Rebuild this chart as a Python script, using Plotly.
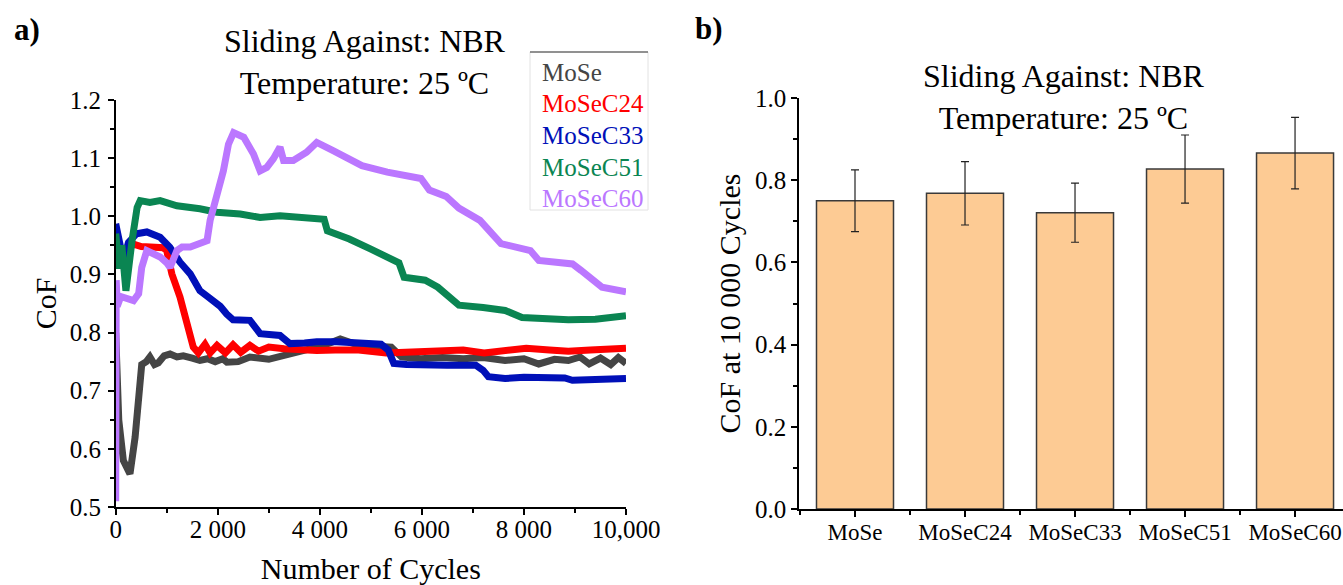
import plotly.graph_objects as go

# ---- data ----
mose_x = [0, 60, 150, 280, 380, 450, 510, 600, 670, 760, 835, 950, 1065, 1200, 1325, 1500, 1650, 1800,
          1950, 2100, 2180, 2400, 2630, 3000, 3290, 3600, 3940, 4200, 4400, 4760, 5100, 5400, 5600, 5980,
          6400, 6810, 7200, 7630, 8000, 8290, 8600, 8870, 9100, 9280, 9500, 9700, 9850, 10000]
mose_y = [0.80, 0.65, 0.58, 0.557, 0.62, 0.70, 0.745, 0.750, 0.758, 0.745, 0.748, 0.760, 0.763, 0.758,
          0.760, 0.756, 0.752, 0.755, 0.750, 0.755, 0.749, 0.750, 0.758, 0.754, 0.760, 0.765, 0.775, 0.782,
          0.789, 0.778, 0.778, 0.775, 0.758, 0.755, 0.757, 0.755, 0.757, 0.752, 0.755, 0.746, 0.754, 0.752,
          0.758, 0.746, 0.756, 0.745, 0.757, 0.747]

c24_x = [0, 80, 150, 250, 350, 500, 700, 930, 1000, 1100, 1260, 1390, 1520, 1620, 1750, 1850, 1985, 2150,
         2300, 2450, 2630, 2800, 3000, 3300, 3600, 3940, 4300, 4760, 5300, 5980, 6400, 6810, 7220, 7600,
         8045, 8500, 8870, 9300, 9700, 10000]
c24_y = [0.965, 0.93, 0.912, 0.945, 0.952, 0.948, 0.947, 0.946, 0.941, 0.901, 0.861, 0.821, 0.775, 0.765,
         0.780, 0.765, 0.778, 0.765, 0.779, 0.766, 0.778, 0.768, 0.775, 0.772, 0.770, 0.769, 0.770, 0.770,
         0.765, 0.767, 0.770, 0.770, 0.765, 0.770, 0.773, 0.770, 0.768, 0.770, 0.771, 0.773]

c33_x = [0, 70, 150, 250, 410, 610, 870, 1060, 1260, 1460, 1650, 1800, 1915, 2050, 2175, 2300, 2630, 2760,
         2830, 3220, 3340, 3415, 3700, 3940, 4330, 4760, 5200, 5340, 5450, 5700, 5980, 6500, 7055, 7200,
         7303, 7630, 8000, 8460, 8800, 8950, 9500, 10000]
c33_y = [0.987, 0.96, 0.924, 0.955, 0.970, 0.973, 0.964, 0.947, 0.921, 0.901, 0.872, 0.862, 0.855, 0.845,
         0.832, 0.822, 0.821, 0.805, 0.798, 0.795, 0.785, 0.781, 0.782, 0.784, 0.784, 0.781, 0.780, 0.770,
         0.747, 0.745, 0.744, 0.744, 0.744, 0.735, 0.724, 0.721, 0.723, 0.724, 0.722, 0.718, 0.719, 0.721]

c51_x = [0, 70, 120, 200, 320, 420, 480, 670, 870, 1200, 1650, 1980, 2440, 2830, 3220, 3610, 3940, 4084,
         4148, 4577, 4990, 5322, 5550, 5652, 6065, 6313, 6643, 6725, 7200, 7632, 7962, 8400, 8870, 9400,
         10000]
c51_y = [0.97, 0.91, 0.95, 0.872, 0.958, 1.015, 1.027, 1.024, 1.027, 1.018, 1.013, 1.007, 1.004, 0.998,
         1.001, 0.998, 0.995, 0.995, 0.975, 0.961, 0.944, 0.930, 0.920, 0.895, 0.890, 0.878, 0.855, 0.847,
         0.843, 0.838, 0.826, 0.824, 0.822, 0.823, 0.829]

c60_x = [0, 10, 30, 100, 200, 350, 450, 510, 610, 740, 870, 1000, 1065, 1200, 1300, 1460, 1650, 1790, 1850,
         1985, 2110, 2210, 2310, 2510, 2700, 2830, 2960, 3090, 3220, 3290, 3480, 3740, 3940, 4260, 4590,
         4825, 5322, 5982, 6147, 6477, 6725, 7137, 7550, 8127, 8292, 8952, 9117, 9530, 10000]
c60_y = [0.51, 0.89, 0.845, 0.862, 0.858, 0.855, 0.867, 0.912, 0.941, 0.935, 0.930, 0.920, 0.912, 0.941,
         0.947, 0.947, 0.952, 0.958, 0.993, 1.038, 1.078, 1.124, 1.144, 1.136, 1.107, 1.078, 1.084, 1.099,
         1.119, 1.096, 1.096, 1.110, 1.127, 1.113, 1.099, 1.087, 1.076, 1.065, 1.045, 1.034, 1.014, 0.993,
         0.953, 0.941, 0.924, 0.918, 0.907, 0.878, 0.870]

samples = ["MoSe", "MoSeC24", "MoSeC33", "MoSeC51", "MoSeC60"]
cof_10k = [0.750, 0.768, 0.721, 0.827, 0.866]
cof_err = [0.075, 0.077, 0.072, 0.083, 0.087]

x_tickvals = [0, 2000, 4000, 6000, 8000, 10000]
x_ticktext = ["0", "2 000", "4 000", "6 000", "8 000", "10,000"]

colors = ["#454545", "#ff0000", "#0010b8", "#0a8552", "#bb77ff"]

W, H = 1343, 585
FONT = "Liberation Serif"


def fx(p):
    return p / W


def fy(p):
    return 1 - p / H


fig = go.Figure()

series = [(mose_x, mose_y), (c24_x, c24_y), (c33_x, c33_y), (c51_x, c51_y), (c60_x, c60_y)]
for (xs, ys), name, col in zip(series, samples, colors):
    fig.add_trace(go.Scatter(x=xs, y=ys, mode="lines", name=name, showlegend=False,
                             line=dict(color=col, width=7), cliponaxis=False,
                             xaxis="x", yaxis="y"))

fig.add_trace(go.Bar(x=list(range(len(samples))), y=cof_10k, width=0.7, showlegend=False,
                     marker=dict(color="#fdcb94", line=dict(color="#3a3a3a", width=1.5)),
                     error_y=dict(type="data", array=cof_err, color="#222222", thickness=1.2, width=4),
                     xaxis="x2", yaxis="y2"))

tick_font = dict(family=FONT, size=25, color="black")
title_font = dict(family=FONT, size=30, color="black")
common = dict(showline=True, linecolor="black", linewidth=1.5, showgrid=False, zeroline=False,
              ticks="outside", ticklen=6, tickwidth=1.5, tickcolor="black", tickfont=tick_font,
              automargin=False)

fig.update_layout(
    template="none",
    width=W, height=H,
    margin=dict(l=0, r=0, t=0, b=0),
    paper_bgcolor="white", plot_bgcolor="white",
    font=dict(family=FONT, color="black"),
    xaxis=dict(domain=[fx(115.7), fx(626)], range=[0, 10000], tickmode="array",
               tickvals=x_tickvals, ticktext=x_ticktext, ticklabelstandoff=-7,
               ticklabeloverflow="allow",
               minor=dict(tick0=0, dtick=1000, ticks="outside", ticklen=4, tickcolor="black"),
               title=dict(text="Number of Cycles", font=title_font, standoff=19), **common),
    yaxis=dict(domain=[fy(507), fy(100)], range=[0.5, 1.2], dtick=0.1, tickformat=".1f",
               ticklabelstandoff=2,
               minor=dict(dtick=0.05, ticks="outside", ticklen=4, tickcolor="black"),
               title=dict(text="CoF", font=title_font, standoff=4), **common),
    xaxis2=dict(domain=[fx(799), 1.0], range=[-0.509, 4.436], tickmode="array",
                tickvals=list(range(len(samples))), ticktext=samples, ticklabelstandoff=-4,
                ticklabeloverflow="allow",
                minor=dict(tick0=0.5, dtick=1, ticks="outside", ticklen=4, tickcolor="black"),
                anchor="y2", **common),
    yaxis2=dict(domain=[fy(509), fy(98)], range=[0, 1.0], dtick=0.2, tickformat=".1f",
                ticklabelstandoff=0,
                minor=dict(dtick=0.1, ticks="outside", ticklen=4, tickcolor="black"),
                title=dict(text="CoF at 10 000 Cycles", font=title_font, standoff=6),
                anchor="x2", **common),
)
# category labels a bit smaller so the last one fits inside the page
fig.update_xaxes(tickfont=dict(family=FONT, size=23, color="black"), selector=dict(anchor="y2"))

ann = []
ann.append(dict(text="Sliding Against: NBR<br>Temperature: 25 ºC", x=fx(365), y=fy(62),
                font=dict(family=FONT, size=32, color="black")))
ann.append(dict(text="Sliding Against: NBR<br>Temperature: 25 ºC", x=fx(1064), y=fy(97),
                font=dict(family=FONT, size=32, color="black")))
ann.append(dict(text="<b>a)</b>", x=fx(27), y=fy(29), font=dict(family=FONT, size=31, color="black")))
ann.append(dict(text="<b>b)</b>", x=fx(709), y=fy(28), font=dict(family=FONT, size=31, color="black")))

legend_y = [72, 103, 135, 167, 198]
for name, col, ly in zip(samples, colors, legend_y):
    ann.append(dict(text=name, x=fx(540), y=fy(ly), xanchor="left",
                    font=dict(family=FONT, size=25, color=col)))

for a in ann:
    a.setdefault("xanchor", "center")
    a.update(xref="paper", yref="paper", yanchor="middle", showarrow=False)
fig.update_layout(annotations=ann)

fig.add_shape(type="rect", xref="paper", yref="paper", x0=fx(530), x1=fx(648), y0=fy(210), y1=fy(52),
              line=dict(color="#e2e2e2", width=1), fillcolor="rgba(0,0,0,0)")
fig.add_shape(type="line", xref="paper", yref="paper", x0=fx(530), x1=fx(648), y0=fy(52), y1=fy(52),
              line=dict(color="#333333", width=1.2))

# page body has an 8px default margin; drop it so the figure fills the window
fig.write_html("out.html", config={"displayModeBar": False},
               post_script="document.body.style.margin='0';")
